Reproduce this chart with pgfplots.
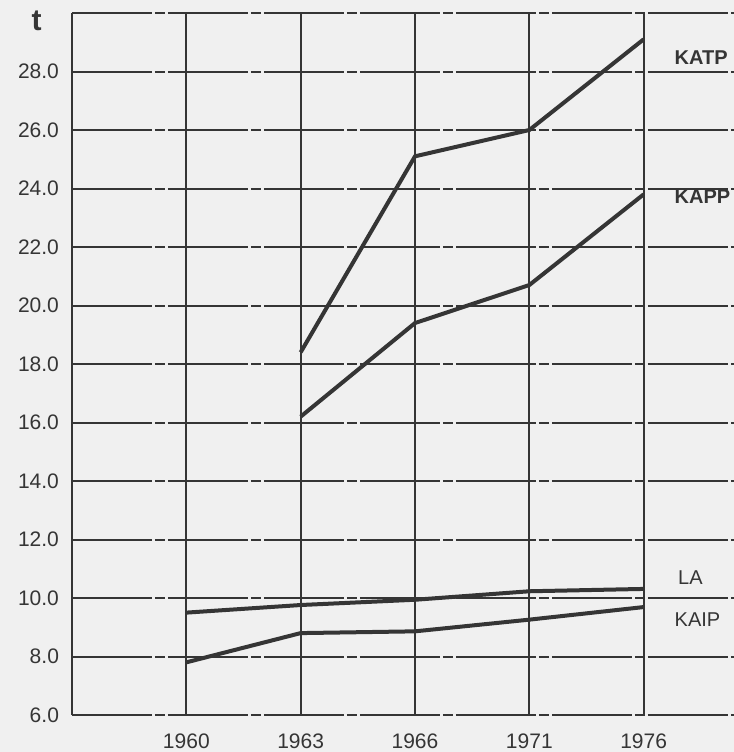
\documentclass[border=0pt]{standalone}
\usepackage{pgfplots}
\pgfplotsset{compat=1.18}
\usepackage{fontspec}
\setmainfont{Liberation Sans}
\definecolor{ink}{HTML}{353535}
\definecolor{paper}{HTML}{F0F0F0}
\begin{document}
\begin{tikzpicture}
\fill[paper] (-36pt,-18.5pt) rectangle (331pt,357.5pt);
\useasboundingbox (-36pt,-18.5pt) rectangle (331pt,357.5pt);
\begin{axis}[
  at={(0,0)}, anchor=south west,
  scale only axis, width=331pt, height=351pt,
  xmin=-1, xmax=4.79, ymin=6, ymax=30,
  axis lines*=left,
  axis line style={ink, line width=1.1pt},
  x axis line style={draw=none},
  xtick={0,1,2,3,4},
  xticklabels={1960,1963,1966,1971,1976},
  ytick={6,8,...,28},
  extra y ticks={30}, extra y tick labels={},
  extra y tick style={grid=major},
  yticklabel={\pgfmathprintnumber[fixed,fixed zerofill,precision=1]{\tick}},
  /pgf/number format/assume math mode=true,
  major tick length=0pt,
  grid=major,
  y grid style={ink, line width=1pt, dash pattern=on 40pt off 1.5pt on 5pt off 1.5pt},
  x grid style={ink, line width=1.1pt, solid},
  tick label style={font=\fontsize{10.5}{12}\selectfont, text=ink},
  xticklabel style={yshift=-6pt},
  yticklabel style={xshift=-3pt},
  clip=false,
]
\addplot[ink, line width=2pt] coordinates {(1,18.4) (2,25.1) (3,26.0) (4,29.1)};
\addplot[ink, line width=2pt] coordinates {(1,16.2) (2,19.4) (3,20.7) (4,23.8)};
\addplot[ink, line width=2pt] coordinates {(0,9.5) (1,9.76) (2,9.94) (3,10.23) (4,10.31)};
\addplot[ink, line width=2pt] coordinates {(0,7.8) (1,8.8) (2,8.86) (3,9.26) (4,9.69)};
\node[anchor=west, text=ink, font=\fontsize{10}{12}\selectfont\bfseries] at (axis cs:4.21,28.48) {KATP};
\node[anchor=west, text=ink, font=\fontsize{10}{12}\selectfont\bfseries] at (axis cs:4.21,23.73) {KAPP};
\node[anchor=west, text=ink, font=\fontsize{10}{12}\selectfont] at (axis cs:4.24,10.68) {LA};
\node[anchor=west, text=ink, font=\fontsize{10}{12}\selectfont] at (axis cs:4.21,9.25) {KAIP};
\node[text=ink, font=\fontsize{15}{16}\selectfont\bfseries] at (axis cs:-1.31,29.72) {t};
\end{axis}
\end{tikzpicture}
\end{document}
